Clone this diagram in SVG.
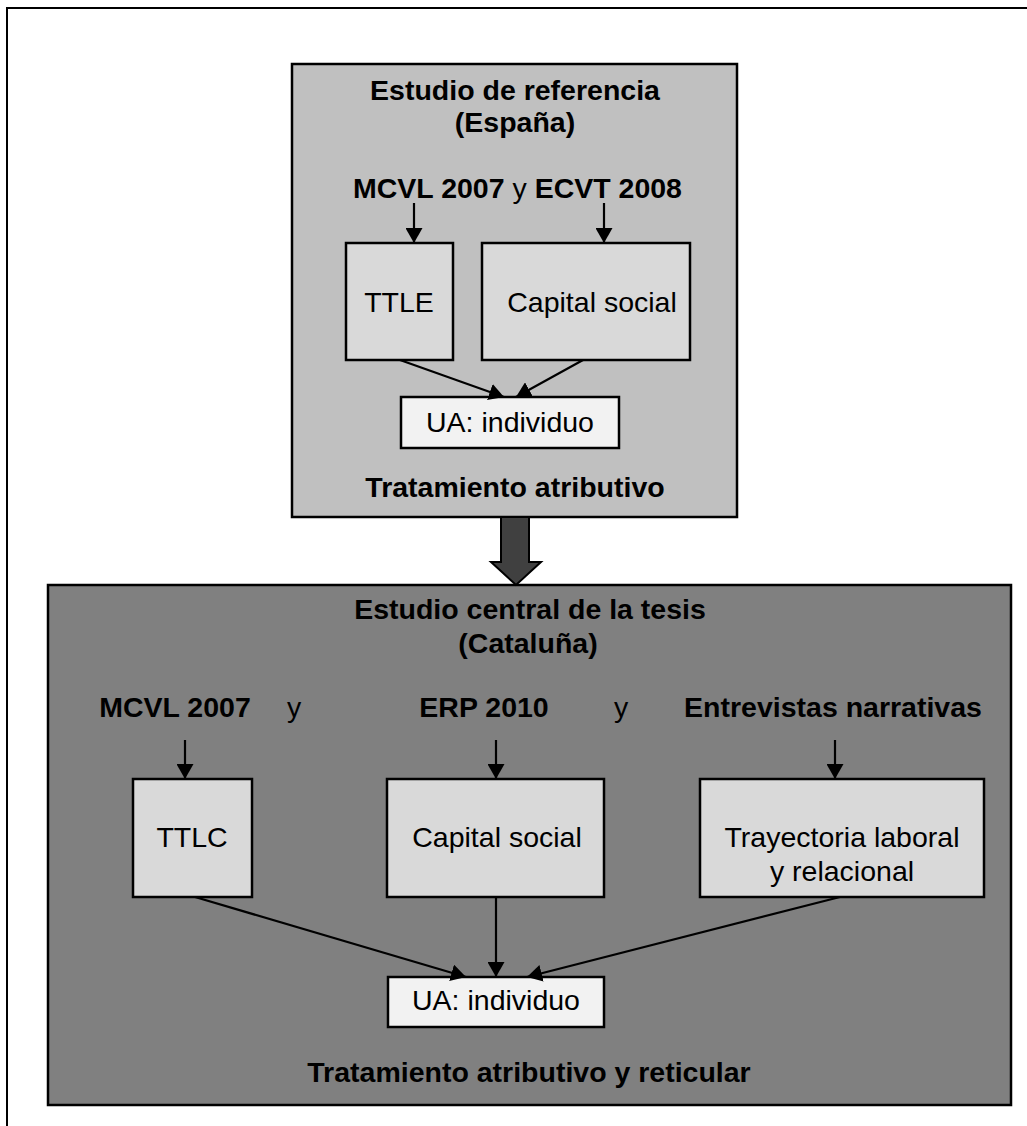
<svg xmlns="http://www.w3.org/2000/svg" width="1027" height="1126" viewBox="0 0 1027 1126">
  <defs>
    <style>
      .t { font-family: "Liberation Sans", Arial, sans-serif; font-size: 28.5px; fill: #000; }
      .b { font-weight: bold; }
      .box { stroke: #000; stroke-width: 2.5; }
      .frame { fill: none; stroke: #000; stroke-width: 2; }
      .conn { stroke: #000; stroke-width: 2.2; fill: none; marker-end: url(#head); }
    </style>
    <marker id="head" markerUnits="userSpaceOnUse" markerWidth="17" markerHeight="17" refX="15" refY="8.5" orient="auto">
      <path d="M0,0 L15,8.5 L0,17 z" fill="#000"/>
    </marker>
  </defs>

  <rect width="1027" height="1126" fill="#fff"/>

  <!-- outer page frame (open at right and bottom) -->
  <path class="frame" d="M7,1126 L7,8 L1027,8"/>

  <!-- reference study (Spain) -->
  <g id="estudio-referencia">
    <rect class="box" x="292" y="64" width="445" height="453" fill="#c0c0c0"/>
    <text class="t b" x="515" y="100" text-anchor="middle">Estudio de referencia</text>
    <text class="t b" x="515" y="132" text-anchor="middle">(España)</text>
    <text class="t" x="353" y="198"><tspan class="b">MCVL 2007</tspan> y <tspan class="b">ECVT 2008</tspan></text>
    <text class="t b" x="515" y="497" text-anchor="middle">Tratamiento atributivo</text>
  </g>

  <g id="ttle">
    <rect class="box" x="346" y="243" width="107" height="117" fill="#d9d9d9"/>
    <text class="t" x="399" y="312" text-anchor="middle">TTLE</text>
  </g>

  <g id="capital-social-es">
    <rect class="box" x="482" y="243" width="208" height="117" fill="#d9d9d9"/>
    <text class="t" x="592" y="312" text-anchor="middle">Capital social</text>
  </g>

  <g id="ua-es">
    <rect class="box" x="401" y="397" width="218" height="51" fill="#f2f2f2"/>
    <text class="t" x="510" y="432" text-anchor="middle">UA: individuo</text>
  </g>

  <!-- central study (Catalonia) -->
  <g id="estudio-central">
    <rect class="box" x="48" y="585" width="963" height="520" fill="#808080"/>
    <text class="t b" x="530" y="619" text-anchor="middle">Estudio central de la tesis</text>
    <text class="t b" x="528" y="653" text-anchor="middle">(Cataluña)</text>
    <text class="t b" x="175" y="717" text-anchor="middle">MCVL 2007</text>
    <text class="t" x="294" y="717" text-anchor="middle">y</text>
    <text class="t b" x="484" y="717" text-anchor="middle">ERP 2010</text>
    <text class="t" x="621" y="717" text-anchor="middle">y</text>
    <text class="t b" x="833" y="717" text-anchor="middle">Entrevistas narrativas</text>
    <text class="t b" x="529" y="1082" text-anchor="middle">Tratamiento atributivo y reticular</text>
  </g>

  <g id="ttlc">
    <rect class="box" x="133" y="779" width="119" height="118" fill="#d9d9d9"/>
    <text class="t" x="192" y="847" text-anchor="middle">TTLC</text>
  </g>

  <g id="capital-social-cat">
    <rect class="box" x="387" y="779" width="217" height="118" fill="#d9d9d9"/>
    <text class="t" x="497" y="847" text-anchor="middle">Capital social</text>
  </g>

  <g id="trayectoria">
    <rect class="box" x="700" y="779" width="284" height="118" fill="#d9d9d9"/>
    <text class="t" x="842" y="847" text-anchor="middle">Trayectoria laboral</text>
    <text class="t" x="842" y="881" text-anchor="middle">y relacional</text>
  </g>

  <g id="ua-cat">
    <rect class="box" x="388" y="977" width="216" height="50" fill="#f2f2f2"/>
    <text class="t" x="496" y="1010" text-anchor="middle">UA: individuo</text>
  </g>

  <!-- connectors -->
  <g id="connectors">
    <line class="conn" x1="414" y1="203" x2="414" y2="243"/>
    <line class="conn" x1="604" y1="203" x2="604" y2="243"/>
    <line class="conn" x1="400" y1="360" x2="504" y2="397"/>
    <line class="conn" x1="583" y1="360" x2="516" y2="397"/>

    <!-- block arrow between the two studies -->
    <path d="M501,517 L529,517 L529,562 L541,562 L516,585 L491,562 L501,562 z" fill="#404040" stroke="#000" stroke-width="2" stroke-linejoin="miter"/>

    <line class="conn" x1="185" y1="740" x2="185" y2="779"/>
    <line class="conn" x1="496" y1="740" x2="496" y2="779"/>
    <line class="conn" x1="835" y1="740" x2="835" y2="779"/>
    <line class="conn" x1="195" y1="897" x2="466" y2="977"/>
    <line class="conn" x1="496" y1="897" x2="496" y2="977"/>
    <line class="conn" x1="840" y1="897" x2="527" y2="977"/>
  </g>
</svg>
